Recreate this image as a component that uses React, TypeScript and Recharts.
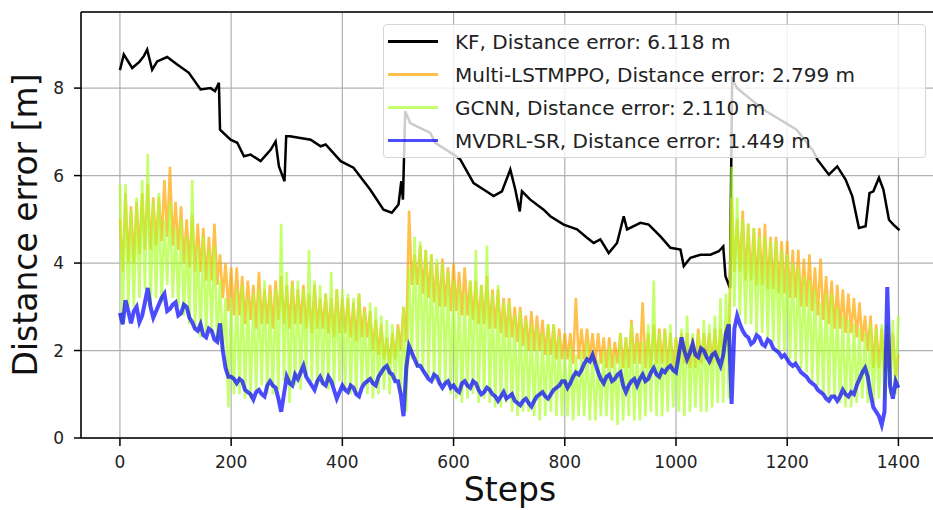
import React from 'react'
import { LineChart, Line, XAxis, YAxis, CartesianGrid, Legend, ReferenceLine } from 'recharts'

// columns every 10 steps; noisy series read as band top (at the column) and band bottom (5 steps later)
const GRID_STEPS = [
  0,10,20,30,40,50,60,70,80,90,
  100,110,120,130,140,150,160,170,180,190,
  200,210,220,230,240,250,260,270,280,290,
  300,310,320,330,340,350,360,370,380,390,
  400,410,420,430,440,450,460,470,480,490,
  500,510,520,530,540,550,560,570,580,590,
  600,610,620,630,640,650,660,670,680,690,
  700,710,720,730,740,750,760,770,780,790,
  800,810,820,830,840,850,860,870,880,890,
  900,910,920,930,940,950,960,970,980,990,
  1000,1010,1020,1030,1040,1050,1060,1070,1080,1090,
  1100,1110,1120,1130,1140,1150,1160,1170,1180,1190,
  1200,1210,1220,1230,1240,1250,1260,1270,1280,1290,
  1300,1310,1320,1330,1340,1350,1360,1370,1380,1390,
  1400,
]
const HALF_STEPS = [
  5,15,25,35,45,55,65,75,85,95,
  105,115,125,135,145,155,165,175,185,195,
  205,215,225,235,245,255,265,275,285,295,
  305,315,325,335,345,355,365,375,385,395,
  405,415,425,435,445,455,465,475,485,495,
  505,515,525,535,545,555,565,575,585,595,
  605,615,625,635,645,655,665,675,685,695,
  705,715,725,735,745,755,765,775,785,795,
  805,815,825,835,845,855,865,875,885,895,
  905,915,925,935,945,955,965,975,985,995,
  1005,1015,1025,1035,1045,1055,1065,1075,1085,1095,
  1105,1115,1125,1135,1145,1155,1165,1175,1185,1195,
  1205,1215,1225,1235,1245,1255,1265,1275,1285,1295,
  1305,1315,1325,1335,1345,1355,1365,1375,1385,1395,
]

const LSTMPPO_HIGH = [
  5.0,5.6,5.3,5.4,5.6,5.8,5.5,5.5,5.9,6.2,
  5.4,5.3,5.0,5.1,4.9,4.8,4.6,4.9,4.2,4.0,
  3.9,3.9,3.7,3.6,3.5,3.8,3.4,3.5,3.6,3.7,
  3.5,3.6,3.4,3.5,3.3,3.5,3.2,3.3,3.2,3.4,
  3.2,3.2,3.1,3.3,3.0,2.9,2.7,2.6,2.3,2.4,
  2.6,3.0,5.2,4.2,4.4,4.3,4.2,4.0,4.1,3.9,
  4.0,3.8,3.9,3.6,3.6,3.5,3.7,3.4,3.4,3.2,
  3.2,3.0,3.0,2.8,2.9,2.8,2.7,2.6,2.6,2.5,
  2.4,2.4,3.2,2.5,2.5,2.4,2.4,2.3,2.3,2.2,
  2.4,2.3,2.7,2.4,3.1,2.4,2.6,2.5,2.5,2.4,
  2.3,2.4,2.4,2.3,2.5,2.4,2.4,2.5,2.5,2.6,
  5.5,5.0,5.2,4.9,4.8,4.8,4.9,4.6,4.6,4.5,
  4.5,4.3,4.3,4.1,4.2,3.9,4.1,3.7,3.6,3.5,
  3.4,3.3,3.2,3.1,2.8,2.8,2.6,2.5,2.4,2.4,
  1.9,
]
const LSTMPPO_LOW = [
  3.8,4.0,4.0,4.2,4.3,4.3,4.4,4.5,4.6,4.4,
  4.3,4.0,3.9,3.8,3.8,3.6,3.6,3.5,3.2,2.9,
  2.8,2.8,2.6,2.7,2.5,2.6,2.6,2.5,2.7,2.6,
  2.5,2.6,2.6,2.5,2.4,2.5,2.5,2.4,2.3,2.4,
  2.4,2.3,2.2,2.3,2.3,2.0,1.9,1.8,1.7,1.8,
  2.0,2.2,3.5,3.5,3.3,3.2,3.1,3.0,3.0,2.9,
  2.9,2.8,2.8,2.7,2.6,2.6,2.5,2.5,2.4,2.3,
  2.3,2.2,2.1,2.0,2.0,2.0,1.9,1.9,1.8,1.8,
  1.8,1.7,1.8,1.8,1.8,1.7,1.7,1.6,1.6,1.7,
  1.6,1.6,1.7,1.7,1.6,1.6,1.7,1.7,1.6,1.6,
  1.7,1.7,1.6,1.6,1.7,1.8,1.7,1.7,1.8,2.0,
  3.8,3.8,3.6,3.6,3.5,3.5,3.4,3.4,3.3,3.3,
  3.2,3.2,3.0,3.0,2.9,2.8,2.7,2.6,2.5,2.5,
  2.4,2.4,2.3,2.2,2.0,1.6,1.6,1.5,1.5,1.4,
]

const GCNN_HIGH = [
  5.8,5.8,5.2,5.5,5.9,6.5,5.4,5.6,5.0,5.4,
  4.8,5.0,4.6,5.9,4.4,4.6,4.3,4.4,3.6,3.2,
  3.2,3.4,3.5,3.2,3.3,3.4,3.6,3.3,3.4,4.9,
  3.8,3.5,3.6,3.4,4.3,3.6,3.5,3.3,3.8,3.4,
  3.4,3.3,3.2,3.3,2.9,3.1,3.0,2.8,2.7,2.6,
  2.5,3.0,3.9,4.6,4.5,4.3,4.2,4.1,4.0,3.8,
  3.6,3.5,3.3,3.6,4.3,3.5,4.4,3.3,3.5,3.1,
  3.1,2.8,2.9,2.7,2.6,2.5,2.4,2.6,2.6,2.3,
  2.0,2.1,1.9,2.0,2.2,2.0,1.8,2.0,2.1,1.9,
  2.4,2.3,2.6,2.2,2.2,2.6,3.6,2.4,2.5,2.6,
  2.3,2.5,2.8,2.4,2.4,2.7,2.6,2.8,3.2,3.3,
  6.2,5.5,5.0,4.9,4.8,4.6,4.6,4.5,4.5,4.3,
  4.2,4.0,3.9,3.7,3.6,3.4,3.1,3.3,3.3,3.0,
  2.8,2.7,2.6,2.5,2.4,2.6,2.5,2.6,2.6,2.7,
  2.8,
]
const GCNN_LOW = [
  2.6,3.0,3.0,3.2,3.4,3.0,3.2,3.1,3.5,3.2,
  3.0,2.8,2.6,2.5,2.3,2.4,2.4,2.2,2.0,0.7,
  1.0,1.0,0.9,0.9,1.1,1.2,1.0,1.0,1.1,1.3,
  0.8,1.2,1.1,1.4,1.3,1.2,1.2,1.1,1.2,1.3,
  1.1,1.0,1.0,1.2,1.0,0.9,1.0,1.1,1.0,1.3,
  1.0,0.6,1.8,1.6,1.5,1.4,1.3,1.2,1.2,1.0,
  0.9,0.8,0.9,1.0,0.8,0.9,0.8,0.7,0.7,0.8,
  0.6,0.5,0.6,0.6,0.5,0.4,0.5,0.6,0.5,0.5,
  0.5,0.4,0.5,0.5,0.4,0.4,0.5,0.5,0.4,0.3,
  0.4,0.5,0.4,0.4,0.5,0.6,0.5,0.5,0.6,0.7,
  0.6,0.5,0.6,0.7,0.6,0.6,0.7,0.8,0.8,0.9,
  3.0,2.8,2.6,2.6,2.4,2.4,2.3,2.2,2.0,2.0,
  1.8,1.7,1.6,1.5,1.3,1.2,1.0,0.9,0.9,0.8,
  0.7,0.7,0.8,0.9,0.8,0.8,0.9,0.9,1.0,1.0,
]

const MVDRL_SR = [
  2.86,3.15,2.62,3.0,2.8,3.43,2.75,3.05,3.3,2.95,
  3.1,2.85,3.0,2.65,2.45,2.35,2.5,2.25,2.62,1.6,
  1.4,1.25,1.3,1.05,0.88,1.1,0.95,1.3,1.15,0.6,
  1.4,1.2,1.35,1.65,1.3,1.1,1.4,1.2,1.3,0.9,
  1.2,1.05,1.15,0.95,1.25,1.35,1.2,1.5,1.65,1.45,
  1.3,0.5,2.1,1.8,1.65,1.45,1.3,1.4,1.15,1.3,
  1.2,1.05,1.3,1.15,1.25,1.0,1.15,1.0,0.85,1.05,
  0.95,0.85,0.75,0.9,0.72,0.95,1.05,0.9,1.1,1.2,
  1.3,1.25,1.5,1.55,1.8,1.9,1.5,1.25,1.45,1.35,
  1.5,1.05,1.3,1.2,1.45,1.35,1.6,1.4,1.5,1.65,
  1.5,2.3,1.8,2.15,1.85,2.0,1.75,1.95,1.65,2.4,
  0.78,2.8,2.45,2.3,2.2,2.3,2.1,2.2,2.0,1.85,
  1.8,1.65,1.6,1.45,1.3,1.2,1.05,0.9,0.95,0.85,
  1.1,0.95,1.0,1.35,1.6,1.0,0.6,0.3,3.45,0.9,
  1.15,
]
const MVDRL_SR_HALF = [
  2.6,2.9,2.9,2.65,3.1,3.0,2.9,3.2,2.9,3.05,
  2.8,3.05,2.75,2.5,2.6,2.3,2.45,2.2,2.0,1.4,
  1.35,1.35,1.1,1.0,1.05,1.0,1.2,1.2,0.9,1.0,
  1.25,1.45,1.5,1.4,1.2,1.3,1.25,1.4,1.1,1.05,
  1.1,1.2,1.0,1.15,1.3,1.25,1.4,1.6,1.5,1.3,
  1.0,1.6,1.95,1.65,1.55,1.35,1.45,1.25,1.25,1.15,
  1.1,1.25,1.2,1.3,1.1,1.05,1.1,0.95,0.95,0.9,
  1.0,0.8,0.85,0.8,0.85,1.0,0.95,1.0,1.15,1.3,
  1.15,1.4,1.45,1.7,1.75,1.7,1.35,1.4,1.3,1.45,
  1.2,1.2,1.35,1.35,1.3,1.5,1.45,1.55,1.6,1.55,
  1.9,2.0,1.95,1.9,2.05,1.85,1.9,1.8,1.9,2.6,
  2.5,2.6,2.35,2.15,2.35,2.15,2.25,2.05,1.95,1.9,
  1.7,1.7,1.5,1.4,1.25,1.1,1.0,0.85,0.95,0.95,
  1.0,1.05,1.2,1.5,1.4,0.7,0.5,0.6,1.2,1.3,
]

// KF is smooth, read at its turning points
const KF_STEPS = [
  0,7,22,35,43,49,58,67,85,103,124,145,163,171,178,180,199,211,223,235,253,271,280,286,296,299,
  306,319,343,361,370,397,420,450,474,489,501,506,509,513,522,546,558,567,600,612,636,654,672,687,
  702,711,719,723,738,762,774,798,822,840,852,864,879,894,906,912,936,951,972,990,1008,1014,1026,
  1044,1062,1077,1085,1089,1097,1101,1110,1157,1217,1247,1254,1275,1290,1305,1317,1329,1341,1348,
  1355,1365,1373,1383,1391,1402,
]
const KF_VALUES = [
  8.41,8.77,8.46,8.6,8.73,8.88,8.42,8.61,8.71,8.54,8.35,7.97,8.0,7.93,8.12,7.05,6.82,6.75,6.44,6.48,6.33,6.59,6.78,6.21,5.87,6.9,
  6.9,6.87,6.82,6.67,6.71,6.33,6.18,5.68,5.22,5.15,5.34,5.87,5.45,7.47,7.2,7.05,6.98,6.75,6.48,6.37,5.83,5.68,5.53,5.64,
  6.14,5.68,5.18,5.64,5.45,5.22,5.07,4.88,4.77,4.58,4.46,4.54,4.23,4.46,5.07,4.77,4.92,4.88,4.61,4.35,4.31,3.93,4.12,
  4.19,4.19,4.27,4.38,3.7,3.43,8.2,8.0,7.51,7.05,6.56,6.37,6.02,6.21,5.91,5.53,4.8,4.84,5.6,
  5.64,5.95,5.68,4.99,4.88,4.75,
]

const X_TICKS = [0, 200, 400, 600, 800, 1000, 1200, 1400]
const Y_TICKS = [0, 2, 4, 6, 8]

const NAMES = [
  'KF, Distance error: 6.118 m',
  'Multi-LSTMPPO, Distance error: 2.799 m',
  'GCNN, Distance error: 2.110 m',
  'MVDRL-SR, Distance error: 1.449 m',
]

const noisyData: { step: number, lstm: number, gcnn: number, mvdrl: number }[] = []
GRID_STEPS.forEach((s, i) => {
  noisyData.push({ step: s, lstm: LSTMPPO_HIGH[i], gcnn: GCNN_HIGH[i], mvdrl: MVDRL_SR[i] })
  if (i < HALF_STEPS.length) {
    noisyData.push({ step: HALF_STEPS[i], lstm: LSTMPPO_LOW[i], gcnn: GCNN_LOW[i], mvdrl: MVDRL_SR_HALF[i] })
  }
})
const kfData = KF_STEPS.map((s, i) => ({ step: s, kf: KF_VALUES[i] }))

const FONT = '"DejaVu Sans", sans-serif'

const renderLegend = (props: any) => {
  const items = [...(props.payload || [])].sort((a: any, b: any) => NAMES.indexOf(a.value) - NAMES.indexOf(b.value))
  return (
    <div style={{
      background: 'rgba(255,255,255,0.8)', border: '1px solid #d6d6d6', borderRadius: 4,
      width: 543, fontFamily: FONT, fontSize: 20, color: '#222', boxSizing: 'border-box',
    }}>
      {items.map((it: any) => (
        <div key={it.value} style={{ height: 33, display: 'flex', alignItems: 'center', paddingLeft: 4 }}>
          <span style={{ display: 'inline-block', width: 50, height: 2.5, background: it.color, opacity: it.value === NAMES[0] ? 1 : 0.7, marginRight: 17 }} />
          <span style={{ whiteSpace: 'nowrap' }}>{it.value}</span>
        </div>
      ))}
    </div>
  )
}

export default function App() {
  return (
    <div style={{ position: 'absolute', left: 0, top: 0, width: 933, height: 510, overflow: 'hidden', background: '#fff' }}>
      <LineChart width={940} height={510} margin={{ top: 12, right: 1, bottom: 0, left: 0 }}>
        <CartesianGrid stroke="#b0b0b0" strokeWidth={1.2} />
        <XAxis
          dataKey="step" type="number" domain={[-70, 1473]} ticks={X_TICKS} allowDataOverflow
          height={72} tickSize={8} tickMargin={10} stroke="#000" strokeWidth={1.5}
          tick={{ fill: '#222', fontSize: 17, fontFamily: FONT }}
          label={(p: any) => {
            const vb = p.viewBox
            return <text x={vb.x + vb.width / 2} y={501} textAnchor="middle" fontSize={33} fontFamily={FONT} fill="#111">Steps</text>
          }}
        />
        <YAxis
          type="number" domain={[0, 9.74]} ticks={Y_TICKS} allowDataOverflow
          width={81} tickSize={7} tickMargin={10} stroke="#000" strokeWidth={1.5}
          tick={{ fill: '#222', fontSize: 17, fontFamily: FONT }}
          label={(p: any) => {
            const vb = p.viewBox
            const cy = vb.y + vb.height / 2
            return <text x={37} y={cy} transform={`rotate(-90, 37, ${cy})`} textAnchor="middle" fontSize={33} fontFamily={FONT} fill="#111">Distance error [m]</text>
          }}
        />
        <ReferenceLine y={9.74} stroke="#000" strokeWidth={1.5} />
        <Line data={kfData} dataKey="kf" name={NAMES[0]} stroke="#000000" strokeWidth={2.5} dot={false} isAnimationActive={false} />
        <Line data={noisyData} dataKey="lstm" name={NAMES[1]} stroke="#ffa500" strokeOpacity={0.7} strokeWidth={2.6} dot={false} isAnimationActive={false} />
        <Line data={noisyData} dataKey="gcnn" name={NAMES[2]} stroke="#adff2f" strokeOpacity={0.7} strokeWidth={2.6} dot={false} isAnimationActive={false} />
        <Line data={noisyData} dataKey="mvdrl" name={NAMES[3]} stroke="#0000ff" strokeOpacity={0.7} strokeWidth={4} dot={false} isAnimationActive={false} />
        <Legend
          content={renderLegend} layout="horizontal" verticalAlign="middle" align="center"
          wrapperStyle={{ left: 383, top: 24, width: 543 }}
        />
      </LineChart>
    </div>
  )
}
